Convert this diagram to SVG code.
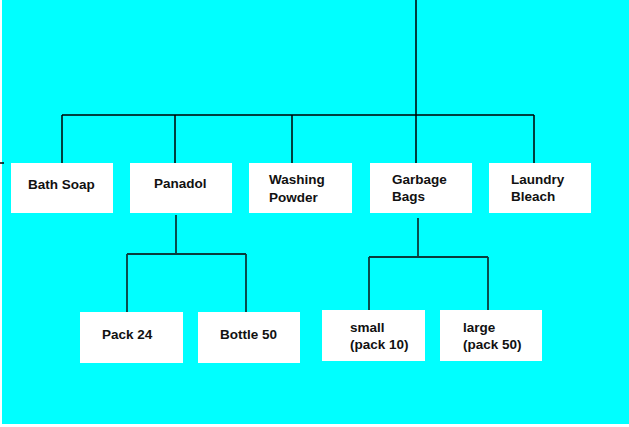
<svg xmlns="http://www.w3.org/2000/svg" width="629" height="427" viewBox="0 0 629 427">
<style>
.box{fill:#ffffff}
.t{font-family:"Liberation Sans",Arial,sans-serif;font-weight:bold;font-size:13.5px;fill:#111111}
.top{stroke:#000000;stroke-width:1.5;fill:none}
.low{stroke:#0b3b3b;stroke-width:1.8;fill:none}
</style>
<rect x="0" y="0" width="629" height="427" fill="#ffffff"/>
<rect x="2" y="0" width="627" height="424" fill="#00ffff"/>
<g id="connectors">
<path class="top" d="M416,0 V163 M62,115 H534 M62,115 V163 M175,115 V163 M292,115 V163 M534,115 V163"/>
<path class="top" d="M0,163 H4"/>
<path class="low" d="M176,215 V254 M127,254 H246 M127,254 V312 M246,254 V312"/>
<path class="low" d="M418,218 V257 M369,257 H488 M369,257 V310 M488,257 V310"/>
</g>
<g id="bath-soap"><rect class="box" x="11" y="163" width="102" height="50"/><text class="t" x="28" y="189">Bath Soap</text></g>
<g id="panadol"><rect class="box" x="130" y="163" width="102" height="50"/><text class="t" x="154" y="188">Panadol</text></g>
<g id="washing-powder"><rect class="box" x="249" y="163" width="103" height="50"/><text class="t" x="269" y="184">Washing</text><text class="t" x="269" y="201.5">Powder</text></g>
<g id="garbage-bags"><rect class="box" x="370" y="163" width="102" height="50"/><text class="t" x="392" y="183.5">Garbage</text><text class="t" x="392" y="200.5">Bags</text></g>
<g id="laundry-bleach"><rect class="box" x="489" y="163" width="102" height="50"/><text class="t" x="511" y="183.5">Laundry</text><text class="t" x="511" y="200.5">Bleach</text></g>
<g id="pack-24"><rect class="box" x="80" y="312" width="103" height="51"/><text class="t" x="102" y="339">Pack 24</text></g>
<g id="bottle-50"><rect class="box" x="198" y="312" width="102" height="51"/><text class="t" x="220" y="339">Bottle 50</text></g>
<g id="small"><rect class="box" x="322" y="310" width="103" height="51"/><text class="t" x="350" y="331.5">small</text><text class="t" x="350" y="348.5">(pack 10)</text></g>
<g id="large"><rect class="box" x="440" y="310" width="102" height="51"/><text class="t" x="463" y="331.5">large</text><text class="t" x="463" y="348.5">(pack 50)</text></g>
</svg>
